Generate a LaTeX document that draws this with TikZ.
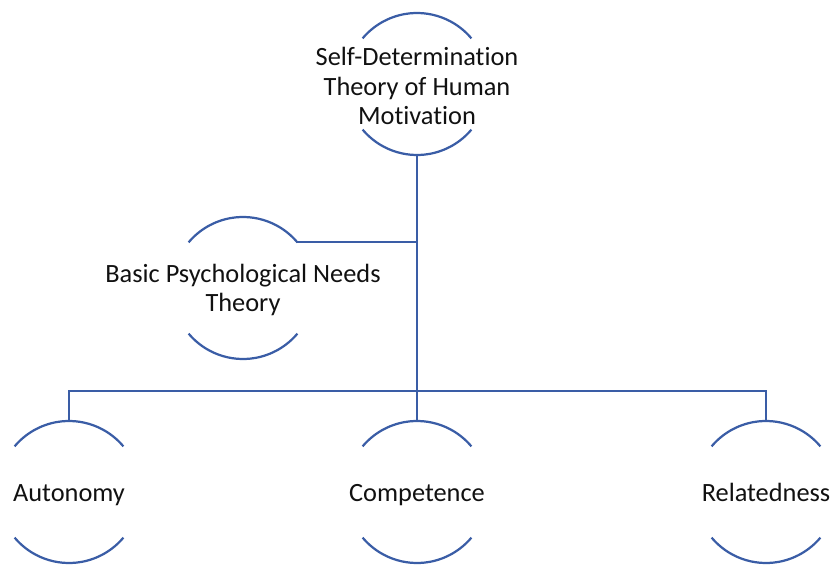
\documentclass[tikz,border=0pt]{standalone}
\usepackage{fontspec}
\setmainfont{Carlito}[Ligatures=CommonOff]
\usetikzlibrary{positioning, calc}

\begin{document}
\begin{tikzpicture}[
    every node/.style={font=\fontsize{22.5}{25.5}\selectfont},
]

% ---------------------------------------------------------------- colours
\definecolor{c1}{HTML}{3A5DA6}   % rings and links
\definecolor{c2}{HTML}{111111}   % labels

% ================================================================
%   page 24.99 x 16.95, origin top left, y running down
%   ring radius 2.13, only the arcs 40..140 and 220..320 are drawn
%   top ring at (12.51,-2.52), side ring at (7.29,-8.64)
%   bottom row y = -14.76, x = 2.07, 12.51, 22.98
%   bar for the bottom row at y = -11.73
% ================================================================

\def\rad{2.13}

\tikzset{
    ring/.style={circle, minimum size=2*\rad cm, inner sep=0pt, outer sep=0pt},
    arcs/.style={draw=c1, line width=1.9pt},
    link/.style={draw=c1, line width=1.9pt},
    txt/.style={text=c2, align=center, inner sep=0pt, yshift=-0.06cm},
    word/.style={txt, text height=0.7em, text depth=0.22em, yshift=-0.13cm},
}

\useasboundingbox (0,0) rectangle (24.99,-16.95);

% ---------------------------------------------------------------- the rings
\node[ring] (sdt) at (12.51,-2.52) {};
\node[ring] (bpn) at (7.29,-8.64) {};
\foreach \n/\x in {aut/2.07, comp/12.51, rel/22.98} {
    \node[ring] (\n) at (\x,-14.76) {};
}

\foreach \n in {sdt, bpn, aut, comp, rel} {
    \draw[arcs] (\n.40) arc[start angle=40, end angle=140, radius=\rad];
    \draw[arcs] (\n.220) arc[start angle=220, end angle=320, radius=\rad];
}

% ---------------------------------------------------------------- the labels
\node[txt] (sdt-t) at (sdt) {Self-Determination\\Theory of Human\\Motivation};
\node[txt] (bpn-t) at (bpn) {Basic Psychological Needs\\Theory};
\node[word] (aut-t) at (aut) {Autonomy};
\node[word] (comp-t) at (comp) {Competence};
\node[word] (rel-t) at (rel) {Relatedness};

% ---------------------------------------------------------------- the links
\coordinate (bar) at (12.51,-11.73);

\draw[link] (sdt.south) -- (bar);
\draw[link] (bpn.40) -- (bpn.40 -| sdt.south);
\draw[link] (aut.north) |- (bar) -| (rel.north);
\draw[link] (bar) -- (comp.north);

\end{tikzpicture}
\end{document}
